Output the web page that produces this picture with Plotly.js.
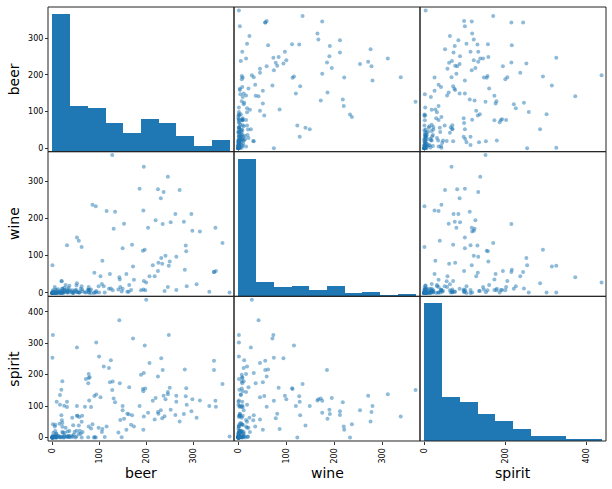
<!DOCTYPE html>
<html>
<head>
<meta charset="utf-8">
<script src="https://cdn.plot.ly/plotly-3.0.1.min.js"></script>
<style>html,body{margin:0;padding:0;background:#fff;}</style>
</head>
<body>
<div id="chart" style="width:612px;height:489px;"></div>
<script>
// servings per country (beer, spirit, wine)
const beer = [0,89,25,245,217,102,193,21,261,279,21,122,42,0,143,142,295,263,34,23,167,76,173,245,31,231,25,88,37,144,57,147,240,17,15,130,79,159,1,76,0,149,230,93,192,361,0,32,224,15,52,193,162,6,52,92,18,224,20,77,263,127,347,8,52,346,31,133,199,53,9,28,93,1,69,234,233,9,5,0,9,313,63,85,82,77,6,124,58,21,0,31,62,281,20,82,19,0,343,236,26,8,13,0,5,149,0,0,98,238,62,0,77,31,12,47,5,376,49,5,251,203,78,3,42,188,169,22,0,306,285,44,213,163,71,343,194,1,140,109,297,247,43,194,171,120,105,0,56,0,9,283,157,25,60,196,270,56,0,225,284,16,8,128,90,152,185,5,2,99,106,1,36,36,197,51,51,19,6,45,206,16,219,36,249,115,25,21,333,111,6,32,64];
const spirit = [0,132,0,138,57,128,25,179,72,75,46,176,63,0,173,373,84,114,4,0,41,173,35,145,2,252,7,0,1,56,65,1,122,2,1,124,192,76,3,1,254,87,87,137,154,170,0,3,81,44,286,147,74,4,69,0,0,194,3,35,133,151,98,0,100,117,3,112,438,69,0,31,302,326,98,215,61,114,1,0,3,118,69,42,97,202,21,246,22,34,0,97,0,216,55,29,152,0,244,133,15,11,4,0,1,100,0,0,31,68,50,0,189,114,6,18,1,3,0,6,88,79,118,2,5,200,71,16,0,63,104,39,117,160,186,215,67,42,16,226,122,326,2,205,315,221,18,0,38,5,1,131,25,3,12,293,51,11,0,76,157,104,13,178,2,60,100,35,15,258,27,1,2,21,156,3,22,71,41,9,237,135,126,6,158,35,101,18,100,2,0,19,18];
const wine = [0,54,14,312,45,45,221,11,212,191,5,51,7,0,36,42,212,8,13,0,8,8,35,16,1,94,7,0,7,16,1,4,100,1,1,172,8,3,1,9,74,11,254,5,113,134,0,1,278,3,26,9,3,1,2,233,0,59,0,1,97,370,59,1,149,175,10,218,28,2,2,21,1,1,2,185,78,0,0,0,0,165,9,237,9,16,1,12,2,1,0,6,123,62,31,0,2,0,56,271,4,1,0,0,1,120,0,0,18,5,18,0,8,128,10,5,0,1,8,0,190,175,1,1,2,7,129,1,0,23,18,1,74,21,1,56,339,7,9,18,167,73,0,32,71,11,24,0,140,0,7,127,51,2,11,116,276,1,0,81,112,0,0,7,2,186,280,16,0,1,86,4,19,5,7,20,7,32,9,0,45,5,195,1,84,220,8,11,3,1,0,4,4];

const varNames = ["beer", "wine", "spirit"];
const varData = [beer, wine, spirit];
const xTickVals = [[0,100,200,300],[0,100,200,300],[0,200,400]];
const yTickVals = [[0,100,200,300],[0,100,200,300],[0,100,200,300,400]];

const blue = "#1f77b4";
const n = varData.length;

function bounds(arr){
  const mn = Math.min(...arr), mx = Math.max(...arr);
  const ext = (mx - mn) * 0.05 / 2;
  return [mn - ext, mx + ext];
}
function hist(arr, nb){
  const mn = Math.min(...arr), mx = Math.max(...arr);
  const w = (mx - mn) / nb;
  const counts = new Array(nb).fill(0);
  arr.forEach(v => { let k = Math.floor((v - mn) / w); if (k >= nb) k = nb - 1; counts[k]++; });
  const centers = counts.map((c, i) => mn + w * (i + 0.5));
  return {centers, counts, w};
}

const traces = [];
const layout = {
  width: 612, height: 489,
  margin: {l: 48, r: 6, t: 7, b: 48},
  paper_bgcolor: "#fff", plot_bgcolor: "#fff",
  showlegend: false,
  font: {family: "DejaVu Sans", size: 8, color: "#000"},
  bargap: 0,
  shapes: [], annotations: []
};

const dom = i => [i / n, (i + 1) / n];
const rowDom = i => [(n - 1 - i) / n, (n - i) / n];

for (let j = 0; j < n; j++) {
  const key = j === 0 ? "xaxis" : "xaxis" + (j + 1);
  layout[key] = {
    domain: dom(j), range: bounds(varData[j]), anchor: "free", position: 0,
    showgrid: false, zeroline: false, showline: false,
    ticks: "outside", ticklen: 3, tickwidth: 0.8, tickcolor: "#000",
    tickvals: xTickVals[j], tickangle: -90, tickfont: {size: 8, color: "#000"}
  };
}
for (let i = 0; i < n; i++) {
  const key = i === 0 ? "yaxis" : "yaxis" + (i + 1);
  layout[key] = {
    domain: rowDom(i), range: bounds(varData[i]), anchor: "free", position: 0,
    showgrid: false, zeroline: false, showline: false,
    ticks: "outside", ticklen: 3, tickwidth: 0.8, tickcolor: "#000",
    tickvals: yTickVals[i], tickfont: {size: 8, color: "#000"}
  };
  const h = hist(varData[i], 10);
  const hk = "yaxis" + (n + i + 1);
  layout[hk] = {
    domain: rowDom(i), range: [0, Math.max(...h.counts) * 1.05],
    anchor: "x" + (i === 0 ? "" : i + 1), visible: false, showgrid: false, zeroline: false
  };
}

for (let i = 0; i < n; i++) {
  for (let j = 0; j < n; j++) {
    const xa = "x" + (j === 0 ? "" : j + 1);
    if (i === j) {
      const h = hist(varData[i], 10);
      traces.push({
        type: "bar", x: h.centers, y: h.counts, width: h.counts.map(() => h.w),
        xaxis: xa, yaxis: "y" + (n + i + 1),
        marker: {color: blue, line: {width: 0}}, hoverinfo: "skip"
      });
    } else {
      traces.push({
        type: "scatter", mode: "markers", x: varData[j], y: varData[i],
        xaxis: xa, yaxis: "y" + (i === 0 ? "" : i + 1),
        marker: {color: blue, size: 4, opacity: 0.5, line: {width: 0}},
        cliponaxis: true, hoverinfo: "skip"
      });
    }
    const dx = dom(j), dy = rowDom(i);
    layout.shapes.push({type: "rect", xref: "paper", yref: "paper",
      x0: dx[0], x1: dx[1], y0: dy[0], y1: dy[1],
      line: {color: "#222", width: 1}, layer: "above"});
  }
}

const plotW = 612 - 48 - 6, plotH = 489 - 7 - 48;
for (let k = 0; k < n; k++) {
  const dx = dom(k), dy = rowDom(k);
  layout.annotations.push({
    text: varNames[k], xref: "paper", yref: "paper",
    x: (dx[0] + dx[1]) / 2, y: -(473 - 441) / plotH,
    xanchor: "center", yanchor: "middle", showarrow: false,
    font: {size: 14, color: "#000"}
  });
  layout.annotations.push({
    text: varNames[k], xref: "paper", yref: "paper",
    x: (14 - 48) / plotW, y: (dy[0] + dy[1]) / 2,
    xanchor: "center", yanchor: "middle", textangle: -90, showarrow: false,
    font: {size: 14, color: "#000"}
  });
}

Plotly.newPlot("chart", traces, layout, {displayModeBar: false, staticPlot: true});
</script>
</body>
</html>
